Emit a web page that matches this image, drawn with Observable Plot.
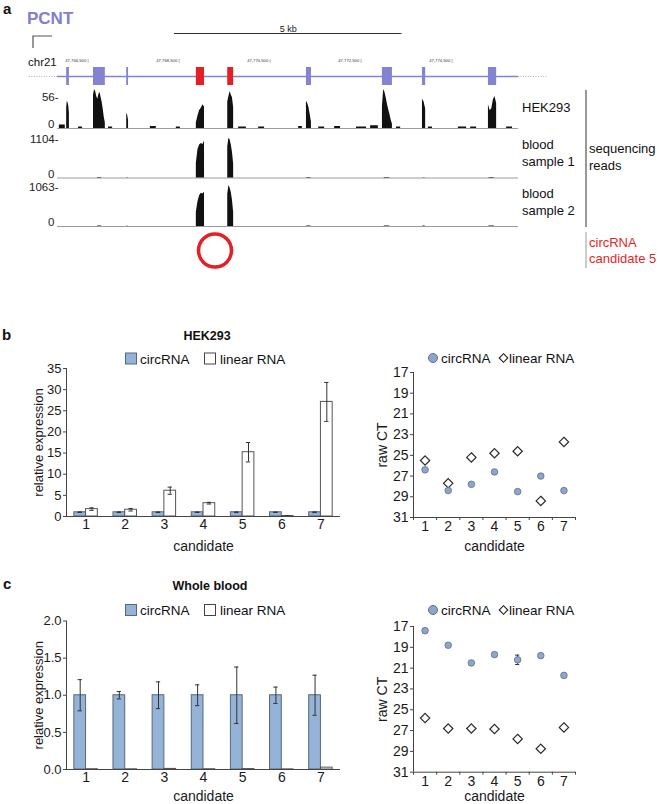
<!DOCTYPE html>
<html>
<head>
<meta charset="utf-8">
<script src="https://cdn.jsdelivr.net/npm/d3@7"></script>
<script src="https://cdn.jsdelivr.net/npm/@observablehq/plot@0.6"></script>
<style>
html,body{margin:0;padding:0;background:#fff;}
#fig{position:relative;width:660px;height:804px;overflow:hidden;font-family:"Liberation Sans",Arial,Helvetica,sans-serif;}
#fig svg{position:absolute;overflow:visible;}
</style>
</head>
<body>
<div id="fig"></div>
<script>
// ================= DATA =================
const candidates = [1, 2, 3, 4, 5, 6, 7];
const seriesNames = ["circRNA", "linear RNA"];

// panel b – HEK293
const hekCircRel = [1, 1, 1, 1, 1, 1, 1];
const hekCircRelErr = [0.06, 0.07, 0.06, 0.04, 0.07, 0.03, 0.08];
const hekLinRel = [1.75, 1.6, 6.1, 3.15, 15.2, 0.12, 27.1];
const hekLinRelErr = [0.3, 0.3, 0.85, 0.2, 2.3, 0.04, 4.6];
const hekCircCT = [26.4, 28.4, 27.8, 26.6, 28.5, 27.0, 28.4];
const hekLinCT = [25.5, 27.7, 25.2, 24.8, 24.6, 29.4, 23.7];

// panel c – whole blood
const bloodCircRel = [1, 1, 1, 1, 1, 1, 1];
const bloodCircRelErr = [0.21, 0.05, 0.18, 0.14, 0.38, 0.11, 0.27];
const bloodLinRel = [0.004, 0.003, 0.008, 0.004, 0.006, 0.002, 0.025];
const bloodLinRelErr = [0, 0, 0, 0, 0, 0, 0];
const bloodCircCT = [17.4, 18.8, 20.5, 19.7, 20.2, 19.8, 21.7];
const bloodCircCTErr = [0.2, 0, 0, 0, 0.45, 0, 0];
const bloodLinCT = [25.8, 26.8, 26.8, 26.85, 27.8, 28.75, 26.7];

const relTicksB = [0, 5, 10, 15, 20, 25, 30, 35];
const relTicksC = [0, 0.5, 1, 1.5, 2];
const ctTicks = [17, 19, 21, 23, 25, 27, 29, 31];

// panel a – PCNT locus (chr21, bp)
const geneName = "PCNT";
const chromName = "chr21";
const exonStart = [47766020, 47766610, 47767340, 47768870, 47769560, 47771290, 47772960, 47773840, 47775290];
const exonEnd   = [47766080, 47766870, 47767380, 47769050, 47769690, 47771400, 47773180, 47773910, 47775470];
const exonCirc  = [false, false, false, true, true, false, false, false, false];
const geneSpan = [47765820, 47775950];
const flankSpan = [47765200, 47776600];
const scaleBarBp = [47768390, 47773390];
const coordTicks = [47766500, 47768500, 47770500, 47772500, 47774500];
const trackNames = ["HEK293", "blood sample 1", "blood sample 2"];
const trackMax = [56, 1104, 1063];

// read-coverage profiles across each exon (null = none)
const hekProfiles = [
  [30, 39, 37, 33, 22],
  [48, 56, 53, 46, 42, 49, 52, 45, 38, 28, 16, 8],
  [22, 19, 12],
  [8, 18, 26, 29, 34, 31],
  [38, 46, 53, 48, 44, 30],
  [39, 36, 30, 20, 9],
  [32, 56, 52, 44, 35, 27, 20, 12, 6],
  [42, 38, 28],
  [34, 26, 28, 41, 46, 36]
];
const blood1Profiles = [null, null, null,
  [400, 780, 900, 940, 910, 1000],
  [850, 1085, 1040, 900, 700, 380],
  null, null, null, null];
const blood2Profiles = [null, null, null,
  [370, 640, 800, 860, 840, 889],
  [830, 1063, 1000, 880, 680, 360],
  null, null, null, null];
// small intronic / background read bumps: [start, end, value]
const hekBumps = [
  [47765860, 47765990, 5], [47766280, 47766370, 2], [47766940, 47767030, 2],
  [47767860, 47767990, 3], [47768430, 47768520, 2], [47769800, 47769970, 2],
  [47770240, 47770370, 2], [47771120, 47771200, 3], [47771560, 47771690, 2],
  [47771910, 47772040, 3], [47772390, 47772610, 2], [47772700, 47772870, 4],
  [47773270, 47773360, 2], [47773970, 47774060, 2], [47774630, 47774810, 2],
  [47774900, 47775030, 2], [47775690, 47775820, 2]
];
const blood1Bumps = [[47766700, 47766790, 14], [47767340, 47767380, 10], [47771300, 47771390, 12],
  [47773000, 47773120, 14], [47773850, 47773900, 10], [47775300, 47775420, 12]];
const blood2Bumps = [[47766700, 47766790, 12], [47767340, 47767380, 9], [47771300, 47771390, 12],
  [47773000, 47773120, 14], [47773850, 47773900, 10], [47775300, 47775420, 12]];

// ================= STYLE / LAYOUT =================
const FONT = '"Liberation Sans", Arial, Helvetica, sans-serif';
const GENE = "#8383d2";
const RED = "#e41f26";
const CIRC_FILL = "#95b3d7", CIRC_STROKE = "#56687e";
const CT_FILL = "#8fa6c9", CT_STROKE = "#5d6f8f";
const AXIS = "#444";
const baseStyle = {fontFamily: FONT, background: "transparent", overflow: "visible", color: "#1a1a1a"};
const fig = document.getElementById("fig");
function place(node, left, top) {
  node.style.position = "absolute";
  node.style.left = left + "px";
  node.style.top = top + "px";
  fig.appendChild(node);
  return node;
}
const gx = {domain: [47765000, 47777000], range: [19.75, 565.75], axis: null};
const exons = exonStart.map((s, i) => ({start: s, end: exonEnd[i], circ: exonCirc[i]}));
const intFmt = d => `${d}`;

// ================= PANEL A =================
place(Plot.plot({
  width: 660, height: 50, margin: 0, style: baseStyle, x: gx,
  y: {type: "point", domain: ["bar", "coords"], range: [13, 40], padding: 0, axis: null},
  marks: [
    Plot.ruleY([scaleBarBp], {y: () => "bar", x1: d => d[0], x2: d => d[1], stroke: "#333", strokeWidth: 1.2}),
    Plot.text([scaleBarBp], {x: d => (d[0] + d[1]) / 2, y: () => "bar", text: d => `${(d[1] - d[0]) / 1000} kb`, dy: -4.5, fontSize: 9, fill: "#222"}),
    Plot.text(coordTicks, {x: d => d, y: () => "coords", text: d => d3.format(",")(d) + " |", textAnchor: "end", fontSize: 4.2, fill: "#333"})
  ]
}), 0, 20);

place(Plot.plot({
  width: 660, height: 30, margin: 0, style: baseStyle, x: gx,
  y: {domain: [-1, 1], range: [24, 6], axis: null},
  marks: [
    Plot.ruleY([0], {x1: flankSpan[0], x2: geneSpan[0], stroke: "#b0b0b0", strokeDasharray: "1,1.5"}),
    Plot.ruleY([0], {x1: geneSpan[1], x2: flankSpan[1], stroke: "#b0b0b0", strokeDasharray: "1,1.5"}),
    Plot.ruleY([0], {x1: geneSpan[0], x2: geneSpan[1], stroke: GENE, strokeWidth: 1.6}),
    Plot.rect(exons.filter(d => !d.circ), {x1: "start", x2: "end", y1: -1, y2: 1, fill: GENE}),
    Plot.rect(exons.filter(d => d.circ), {x1: "start", x2: "end", y1: -1, y2: 1, fill: RED})
  ]
}), 0, 61);

function coverage(profiles, bumps) {
  const pts = [];
  exons.forEach((e, i) => {
    const p = profiles[i];
    if (!p) return;
    pts.push({pos: e.start, v: 0});
    p.forEach((v, k) => pts.push({pos: e.start + (e.end - e.start) * k / (p.length - 1), v}));
    pts.push({pos: e.end, v: 0});
  });
  bumps.forEach(([s, e, v]) => pts.push({pos: s, v: 0}, {pos: s, v}, {pos: e, v}, {pos: e, v: 0}));
  return pts.sort((a, b) => a.pos - b.pos);
}
const profileList = [hekProfiles, blood1Profiles, blood2Profiles];
const bumpList = [hekBumps, blood1Bumps, blood2Bumps];
const trackLayout = [{top: 89, bottom: 128, labelDy: 8}, {top: 136.5, bottom: 177, labelDy: 2}, {top: 185, bottom: 226, labelDy: 2}];
trackNames.forEach((name, i) => {
  const L = trackLayout[i];
  const h = L.bottom - L.top;
  const pts = coverage(profileList[i], bumpList[i]);
  place(Plot.plot({
    width: 660, height: h + 14, marginTop: 10, marginBottom: 4, marginLeft: 57, marginRight: 142,
    style: baseStyle, x: gx, y: {domain: [0, trackMax[i]], axis: null},
    marks: [
      Plot.ruleY([0], {x1: geneSpan[0], x2: geneSpan[1], stroke: "#9a9a9a"}),
      Plot.area(pts, {x1: "pos", y1: 0, y2: "v", fill: "#111", curve: "linear"}),
      Plot.text([trackMax[i]], {y: d => d, frameAnchor: "left", text: d => `${d}-`, textAnchor: "end", dx: 1, dy: L.labelDy, fontSize: 11.5, fill: "#222"}),
      Plot.text([0], {y: d => d, frameAnchor: "left", text: d => `${d}`, textAnchor: "end", dx: -3, dy: -4, fontSize: 11.5, fill: "#222"})
    ]
  }), 0, L.top - 10);
});

const circExons = exons.filter(d => d.circ);
place(Plot.plot({
  width: 660, height: 40, margin: 0, style: baseStyle, x: gx,
  marks: [
    Plot.dot([circExons], {x: d => (d[0].start + d[d.length - 1].end) / 2, r: 16.5, stroke: RED, strokeWidth: 3.5, fill: "none"})
  ]
}), 0, 230);

// ================= PANELS B / C =================
function relChart({circ, circErr, lin, linErr, ticks, fmt, height, marginTop, marginBottom, labelOffsetX}) {
  const rows = candidates.map((c, i) => ({c, circ: circ[i], ce: circErr[i], lin: lin[i], le: linErr[i]}));
  const bw = 0.3, cap = 0.055;
  const ce = rows.filter(d => d.ce > 0), le = rows.filter(d => d.le > 0);
  return Plot.plot({
    width: 345, height, marginLeft: 66, marginRight: 5, marginTop, marginBottom,
    style: baseStyle,
    x: {domain: [0.5, 7.5]},
    y: {domain: [ticks[0], ticks[ticks.length - 1]]},
    marks: [
      Plot.rect(rows, {x1: d => d.c - bw, x2: "c", y1: 0, y2: "circ", fill: CIRC_FILL, stroke: CIRC_STROKE, strokeWidth: 1}),
      Plot.rect(rows, {x1: "c", x2: d => d.c + bw, y1: 0, y2: "lin", fill: "white", stroke: "#555", strokeWidth: 1}),
      Plot.ruleX(ce, {x: d => d.c - bw / 2, y1: d => d.circ - d.ce, y2: d => d.circ + d.ce, stroke: "#333"}),
      Plot.ruleY(ce, {y: d => d.circ + d.ce, x1: d => d.c - bw / 2 - cap, x2: d => d.c - bw / 2 + cap, stroke: "#333"}),
      Plot.ruleY(ce, {y: d => d.circ - d.ce, x1: d => d.c - bw / 2 - cap, x2: d => d.c - bw / 2 + cap, stroke: "#333"}),
      Plot.ruleX(le, {x: d => d.c + bw / 2, y1: d => d.lin - d.le, y2: d => d.lin + d.le, stroke: "#333"}),
      Plot.ruleY(le, {y: d => d.lin + d.le, x1: d => d.c + bw / 2 - cap, x2: d => d.c + bw / 2 + cap, stroke: "#333"}),
      Plot.ruleY(le, {y: d => d.lin - d.le, x1: d => d.c + bw / 2 - cap, x2: d => d.c + bw / 2 + cap, stroke: "#333"}),
      Plot.ruleY([ticks[0]], {stroke: AXIS}),
      Plot.ruleX([0.5], {stroke: AXIS}),
      Plot.axisY({ticks, tickFormat: fmt, tickSize: 3, tickPadding: 2, fontSize: 13, stroke: AXIS,
        label: "relative expression", labelAnchor: "center", labelOffset: 33, labelArrow: "none"}),
      Plot.axisX({ticks: candidates, tickFormat: intFmt, tickSize: 0, tickPadding: 3, fontSize: 14,
        label: "candidate", labelAnchor: "center", labelOffset: labelOffsetX, labelArrow: "none"})
    ]
  });
}

function ctChart({circ, circErr, lin, height, marginTop, marginBottom, labelOffsetX}) {
  const rows = candidates.map((c, i) => ({c, circ: circ[i], ce: circErr[i], lin: lin[i]}));
  const bounds = candidates.map(c => c - 0.5).concat([candidates[candidates.length - 1] + 0.5]);
  const ce = rows.filter(d => d.ce > 0), cap = 0.09;
  const yMin = ctTicks[0], yMax = ctTicks[ctTicks.length - 1];
  return Plot.plot({
    width: 250, height, marginLeft: 83, marginRight: 5, marginTop, marginBottom,
    style: baseStyle,
    x: {domain: [0.5, 7.5]},
    y: {domain: [yMin, yMax], reverse: true},
    marks: [
      Plot.ruleX([0.5], {stroke: AXIS}),
      Plot.ruleY([yMax], {stroke: AXIS}),
      Plot.axisY({ticks: ctTicks, tickFormat: intFmt, tickSize: 3, tickPadding: 2, fontSize: 14, stroke: AXIS,
        label: "raw CT", labelAnchor: "center", labelOffset: 36, labelArrow: "none"}),
      Plot.axisX({ticks: bounds, tickSize: 3, tickFormat: () => "", stroke: AXIS, label: null}),
      Plot.axisX({ticks: candidates, tickFormat: intFmt, tickSize: 0, tickPadding: 4, fontSize: 14,
        label: "candidate", labelAnchor: "center", labelOffset: labelOffsetX, labelArrow: "none"}),
      Plot.dot(rows, {x: "c", y: "lin", symbol: "diamond2", r: 4.2, fill: "white", stroke: "#2a2a2a", strokeWidth: 1.2}),
      Plot.ruleX(ce, {x: "c", y1: d => d.circ - d.ce, y2: d => d.circ + d.ce, stroke: "#333"}),
      Plot.ruleY(ce, {y: d => d.circ + d.ce, x1: d => d.c - cap, x2: d => d.c + cap, stroke: "#333"}),
      Plot.ruleY(ce, {y: d => d.circ - d.ce, x1: d => d.c - cap, x2: d => d.c + cap, stroke: "#333"}),
      Plot.dot(rows, {x: "c", y: "circ", r: 3.3, fill: CT_FILL, stroke: CT_STROKE, strokeWidth: 0.8})
    ]
  });
}

place(relChart({circ: hekCircRel, circErr: hekCircRelErr, lin: hekLinRel, linErr: hekLinRelErr,
  ticks: relTicksB, fmt: intFmt, height: 216, marginTop: 28, marginBottom: 40, labelOffsetX: 34}), 0, 340);
place(ctChart({circ: hekCircCT, circErr: hekCircCT.map(() => 0), lin: hekLinCT,
  height: 217, marginTop: 32, marginBottom: 40, labelOffsetX: 33}), 330, 340);
place(relChart({circ: bloodCircRel, circErr: bloodCircRelErr, lin: bloodLinRel, linErr: bloodLinRelErr,
  ticks: relTicksC, fmt: d3.format(".1f"), height: 204, marginTop: 20.5, marginBottom: 35, labelOffsetX: 31}), 0, 600);
place(ctChart({circ: bloodCircCT, circErr: bloodCircCTErr, lin: bloodLinCT,
  height: 204, marginTop: 26, marginBottom: 32.3, labelOffsetX: 29}), 330, 600);

// ================= OVERLAY TEXT, LEGENDS =================
const ov = d3.create("svg").attr("width", 660).attr("height", 804)
  .style("left", "0px").style("top", "0px").style("font-family", FONT);
function txt(x, y, s, o = {}) {
  return ov.append("text").attr("x", x).attr("y", y).text(s)
    .attr("font-size", o.size || 13).attr("font-weight", o.bold ? "bold" : null)
    .attr("text-anchor", o.anchor || "start").attr("fill", o.fill || "#111");
}
txt(3, 14, "a", {size: 15, bold: true});
txt(27, 24, geneName, {size: 17, bold: true, fill: "#8080cc"});
ov.append("path").attr("d", "M33,48V36H52").attr("fill", "none").attr("stroke", "#555").attr("stroke-width", 1.2);
txt(28, 66, chromName, {size: 11.5});
txt(522, 112, trackNames[0], {size: 13});
txt(522, 149, "blood", {size: 13}); txt(522, 166, "sample 1", {size: 13});
txt(522, 198, "blood", {size: 13}); txt(522, 215, "sample 2", {size: 13});
ov.append("line").attr("x1", 586).attr("x2", 586).attr("y1", 90).attr("y2", 227).attr("stroke", "#333");
txt(589, 153, "sequencing", {size: 13}); txt(589, 170, "reads", {size: 13});
ov.append("line").attr("x1", 586).attr("x2", 586).attr("y1", 232).attr("y2", 268).attr("stroke", "#999");
txt(589, 247, "circRNA", {size: 13, fill: RED}); txt(589, 263, "candidate 5", {size: 13, fill: RED});

function barLegend(y) {
  ov.append("rect").attr("x", 125.5).attr("y", y - 10.5).attr("width", 11).attr("height", 11).attr("fill", CIRC_FILL).attr("stroke", CIRC_STROKE);
  txt(140, y, seriesNames[0], {size: 13.5});
  ov.append("rect").attr("x", 204.5).attr("y", y - 10.5).attr("width", 11).attr("height", 11).attr("fill", "white").attr("stroke", "#444");
  txt(220, y, seriesNames[1], {size: 13.5});
}
function ctLegend(y) {
  ov.append("circle").attr("cx", 433).attr("cy", y - 5).attr("r", 4.5).attr("fill", CT_FILL).attr("stroke", CT_STROKE);
  txt(441, y, seriesNames[0], {size: 13.5});
  const cx = 503.5, cy = y - 5, s = 4.3;
  ov.append("path").attr("d", `M${cx},${cy - s}L${cx + s},${cy}L${cx},${cy + s}L${cx - s},${cy}Z`).attr("fill", "white").attr("stroke", "#222").attr("stroke-width", 1.1);
  txt(509, y, seriesNames[1], {size: 13.5});
}
txt(2, 340, "b", {size: 15, bold: true});
txt(207, 340, "HEK293", {size: 12.5, bold: true, anchor: "middle"});
barLegend(363.5);
ctLegend(363);
txt(3, 589, "c", {size: 15, bold: true});
txt(210, 590, "Whole blood", {size: 12.5, bold: true, anchor: "middle"});
barLegend(615);
ctLegend(615);

place(ov.node(), 0, 0);
</script>
</body>
</html>
